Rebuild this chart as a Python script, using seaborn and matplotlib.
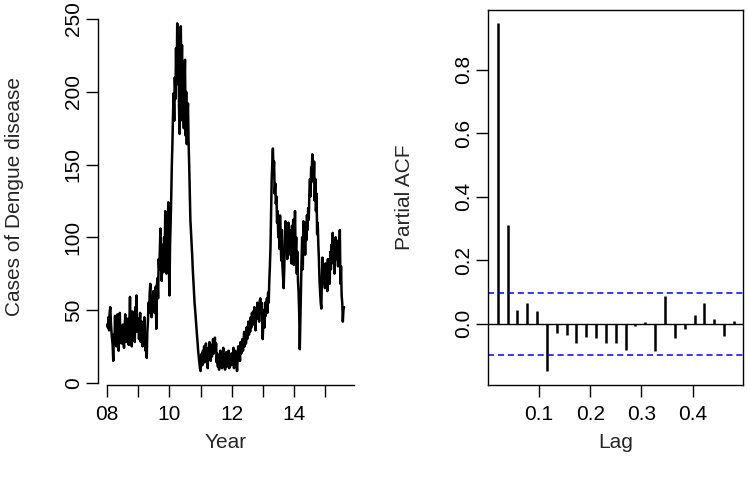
import numpy as np
import pandas as pd
import matplotlib
matplotlib.use("Agg")
import matplotlib.pyplot as plt
import seaborn as sns

# Weekly dengue cases (one list per year)
cases_2008 = [40, 38, 45, 36, 48, 52, 42, 35, 30, 26, 15, 33, 28, 46, 30, 25, 33, 47, 30, 22,
              36, 48, 28, 35, 27, 31, 40, 29, 24, 36, 47, 32, 28, 38, 44, 30, 26, 42, 59, 38,
              34, 25, 49, 37, 30, 45, 28, 52, 40, 60, 35, 42]
cases_2009 = [44, 30, 38, 48, 28, 35, 42, 25, 36, 32, 45, 28, 22, 30, 17, 35, 42, 55, 48, 62,
              68, 52, 45, 58, 50, 63, 55, 48, 60, 66, 37, 67, 72, 58, 85, 78, 92, 106, 80, 70,
              88, 95, 76, 100, 85, 118, 98, 75, 110, 90, 124, 82]
cases_2010 = [60, 95, 110, 128, 150, 165, 185, 199, 180, 210, 195, 230, 205, 247, 215, 238, 190, 171, 220, 245,
              200, 232, 180, 215, 175, 205, 222, 170, 200, 164, 185, 192, 165, 150, 130, 112, 104, 95, 88, 78,
              70, 62, 55, 50, 44, 38, 33, 28, 22, 18, 14, 10]
cases_2011 = [8, 15, 20, 12, 22, 18, 25, 14, 20, 27, 16, 22, 10, 24, 19, 28, 21, 15, 26, 18,
              23, 30, 20, 25, 31, 22, 27, 14, 20, 11, 18, 9, 16, 22, 13, 19, 10, 17, 24, 12,
              18, 9, 15, 21, 11, 17, 13, 22, 10, 18, 14, 20]
cases_2012 = [12, 20, 15, 24, 10, 18, 22, 14, 19, 8, 16, 25, 18, 22, 15, 28, 20, 24, 30, 22,
              28, 35, 25, 32, 27, 38, 30, 36, 42, 33, 40, 35, 45, 38, 48, 42, 49, 40, 52, 45,
              36, 50, 44, 55, 47, 52, 42, 56, 58, 48, 55, 45]
cases_2013 = [30, 42, 50, 38, 55, 46, 52, 58, 48, 62, 55, 70, 80, 93, 115, 140, 150, 161, 145, 152,
              130, 137, 123, 128, 110, 118, 100, 106, 92, 115, 98, 84, 105, 80, 72, 65, 78, 98, 111, 90,
              104, 85, 100, 110, 92, 105, 88, 98, 82, 108, 95, 112]
cases_2014 = [81, 95, 118, 88, 100, 75, 90, 70, 62, 48, 23, 45, 70, 85, 100, 78, 111, 92, 105, 88,
              110, 98, 115, 105, 120, 112, 130, 140, 128, 148, 145, 157, 150, 138, 152, 125, 140, 118, 130, 102,
              110, 95, 85, 70, 62, 55, 51, 72, 86, 68, 80, 75]
cases_2015 = [65, 82, 70, 78, 63, 85, 72, 80, 68, 90, 78, 95, 88, 103, 82, 96, 75, 92, 100, 85,
              94, 88, 80, 98, 90, 105, 68, 80, 60, 55, 42, 50, 52]

cases = (cases_2008 + cases_2009 + cases_2010 + cases_2011 +
         cases_2012 + cases_2013 + cases_2014 + cases_2015)
start_year = 8          # axis shows two-digit years
freq = 52               # weekly series

# Partial autocorrelations, lags 1..25 (in weeks)
pacf_values = [0.946, 0.311, 0.043, 0.064, 0.039, -0.149, -0.030, -0.036, -0.060, -0.041,
               -0.046, -0.059, -0.062, -0.081, -0.008, 0.007, -0.086, 0.089, -0.045, -0.018,
               0.028, 0.064, 0.014, -0.038, 0.008]

year_ticks = [8, 9, 10, 11, 12, 13, 14, 15]
year_labels = ["08", "", "10", "", "12", "", "14", ""]
case_ticks = [0, 50, 100, 150, 200, 250]
lag_ticks = [0.1, 0.2, 0.3, 0.4]
pacf_ticks = [0.0, 0.2, 0.4, 0.6, 0.8]

df = pd.DataFrame({"year": start_year + np.arange(len(cases)) / freq, "cases": cases})
lags = np.arange(1, len(pacf_values) + 1) / freq
ci = 1.96 / np.sqrt(len(cases))

sns.set_theme(style="white")
plt.rcParams['font.family'] = ['Liberation Sans', 'DejaVu Sans']

W, H = 747, 487
fig = plt.figure(figsize=(W / 100, H / 100), dpi=100)


def px_axes(x0, x1, y0, y1):
    return fig.add_axes([x0 / W, 1 - y1 / H, (x1 - x0) / W, (y1 - y0) / H])


def r_lim(lo, hi):
    d = (hi - lo) * 0.04
    return lo - d, hi + d


FS = 15
tick_kw = dict(direction="out", length=8.4, width=1.0, colors="black", labelsize=FS)

# Left panel: time series
ax1 = px_axes(97.8, 353.5, 9.5, 385)
sns.lineplot(data=df, x="year", y="cases", ax=ax1, color="black", linewidth=1.8)
ax1.set_xlim(r_lim(df["year"].min(), df["year"].max()))
ax1.set_ylim(r_lim(df["cases"].min(), df["cases"].max()))
ax1.set_xticks(year_ticks, labels=year_labels)
ax1.set_yticks(case_ticks, labels=[str(t) for t in case_ticks], rotation=90, va="center")
ax1.tick_params(axis="x", bottom=True, pad=6, **tick_kw)
ax1.tick_params(axis="y", left=True, pad=2.5, **tick_kw)
ax1.set_xlabel("")
ax1.set_ylabel("")
for s in ["top", "right"]:
    ax1.spines[s].set_visible(False)
for s in ["left", "bottom"]:
    ax1.spines[s].set_color("black")
    ax1.spines[s].set_linewidth(1.0)
ax1.spines["left"].set_bounds(0, 250)
ax1.spines["bottom"].set_bounds(8, ax1.get_xlim()[1])

# Right panel: PACF
ax2 = px_axes(488.3, 743.3, 9.5, 385)
ax2.vlines(lags, 0, pacf_values, colors="black", linewidth=1.8)
ax2.axhline(0, color="black", linewidth=1.0)
for c in (ci, -ci):
    ax2.axhline(c, color="blue", linewidth=1.1, linestyle=(0, (4, 2.5)))
ax2.set_xlim(r_lim(lags.min(), lags.max()))
ax2.set_ylim(r_lim(min(min(pacf_values), -ci), max(max(pacf_values), ci)))
ax2.set_xticks(lag_ticks, labels=[f"{t:.1f}" for t in lag_ticks])
ax2.set_yticks(pacf_ticks, labels=[f"{t:.1f}" for t in pacf_ticks], rotation=90, va="center")
ax2.tick_params(axis="x", bottom=True, pad=6, **tick_kw)
ax2.tick_params(axis="y", left=True, pad=2.5, **tick_kw)
for s in ax2.spines.values():
    s.set_visible(True)
    s.set_color("black")
    s.set_linewidth(1.0)

# Axis titles
fig.text(225.6 / W, 1 - 443 / H, "Year", ha="center", va="center", fontsize=FS)
fig.text(615.8 / W, 1 - 443 / H, "Lag", ha="center", va="center", fontsize=FS)
fig.text(15 / W, 1 - 197 / H, "Cases of Dengue disease", rotation=90,
         ha="center", va="center", fontsize=FS)
fig.text(405 / W, 1 - 197 / H, "Partial ACF", rotation=90,
         ha="center", va="center", fontsize=FS)

fig.savefig("out.png", dpi=100)
plt.close(fig)
